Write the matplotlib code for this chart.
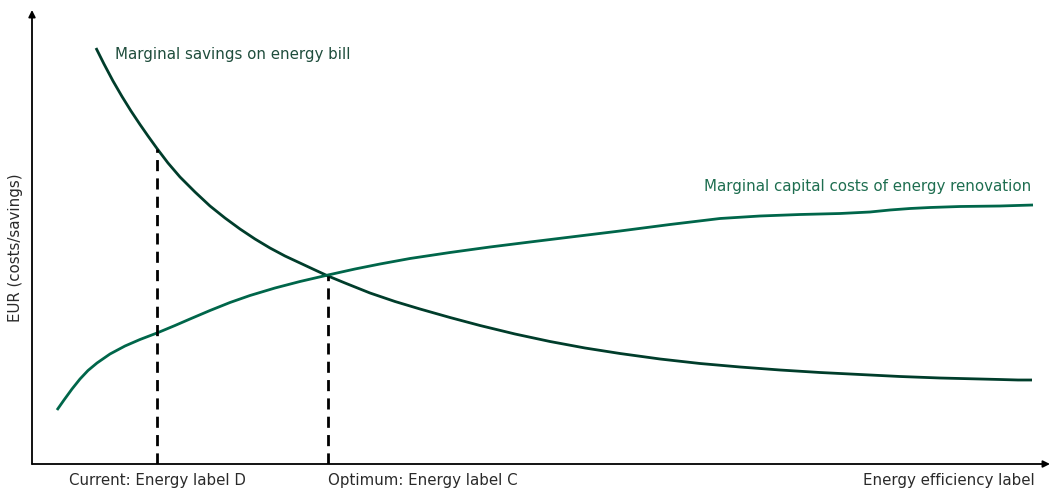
import matplotlib.pyplot as plt

# curve readings (x along efficiency axis, y in EUR units, arbitrary scale)
savings_x = [64, 72, 81, 90, 99, 108, 116, 125, 136, 148, 163, 178, 193, 208, 223, 238, 253,
             268, 283, 296, 313, 338, 363, 388, 418, 448, 483, 518, 553, 588, 628, 668, 708,
             748, 788, 828, 868, 908, 948, 968, 986, 1000]
savings_y = [416, 400, 383, 367.5, 353, 339.5, 328, 315.5, 301, 287, 272, 258, 246, 235, 225,
             216, 208, 201, 194, 188, 181, 171, 162.5, 155, 146.5, 138.5, 130, 122.5, 116,
             110.5, 105, 100.5, 97, 94, 91.5, 89.5, 87.5, 86, 85, 84.5, 84, 84]

capital_x = [25, 32, 40, 48, 56, 65, 78, 93, 108, 125, 143, 158, 178, 198, 218, 243, 268, 296,
             323, 348, 378, 418, 458, 498, 543, 588, 638, 688, 728, 768, 808, 838, 858, 878,
             898, 928, 968, 1001]
capital_y = [54, 64, 75, 85, 93.5, 101, 110, 118, 124.5, 131, 138.5, 145, 153.5, 161.5, 168.5,
             176, 182.5, 189, 195, 200, 205.5, 211.5, 217, 222, 227.5, 233, 239.5, 245.5, 248,
             249.5, 250.5, 252, 254, 255.5, 256.5, 257.5, 258, 259]

current_x, current_y = 125, 315.5
optimum_x, optimum_y = 296, 188

fig = plt.figure(figsize=(10.53, 4.91), dpi=100)
ax = fig.add_axes([32 / 1053, 27 / 491, 1018 / 1053, 454 / 491])
ax.set_xlim(0, 1018)
ax.set_ylim(0, 454)
ax.axis('off')

font = 'DejaVu Sans'
fs = 10.8
dark = '#003d2b'
mid = '#00664a'
grey = '#2a2a2a'

# axes drawn as arrows
for tip in [(1018, 0), (0, 454)]:
    ax.annotate('', xy=tip, xytext=(0, 0),
                arrowprops=dict(arrowstyle='-|>', color='black', lw=1.3, mutation_scale=10,
                                shrinkA=0, shrinkB=0))

ax.plot(savings_x, savings_y, color=dark, lw=2.0, solid_capstyle='butt', solid_joinstyle='round')
ax.plot(capital_x, capital_y, color=mid, lw=2.0, solid_capstyle='butt', solid_joinstyle='round')

ax.plot([current_x, current_x], [0, current_y], color='black', lw=2.0, ls=(0, (4, 2.6)))
ax.plot([optimum_x, optimum_x], [0, optimum_y], color='black', lw=2.0, ls=(0, (4, 2.6)))

ax.text(83, 410, 'Marginal savings on energy bill', color='#1f4d3c', fontsize=fs,
        family=font, va='center', ha='left')
ax.text(999, 278, 'Marginal capital costs of energy renovation', color='#1e6e50',
        fontsize=fs, family=font, va='center', ha='right')

ax.text(current_x, -16, 'Current: Energy label D', color=grey, fontsize=fs,
        family=font, va='center', ha='center', clip_on=False)
ax.text(optimum_x, -16, 'Optimum: Energy label C', color=grey, fontsize=fs,
        family=font, va='center', ha='left', clip_on=False)
ax.text(1003, -16, 'Energy efficiency label', color=grey, fontsize=fs,
        family=font, va='center', ha='right', clip_on=False)
ax.text(-16, 216, 'EUR (costs/savings)', color=grey, fontsize=fs, family=font,
        va='center', ha='center', rotation=90, clip_on=False)

fig.savefig('out.png', dpi=100)
